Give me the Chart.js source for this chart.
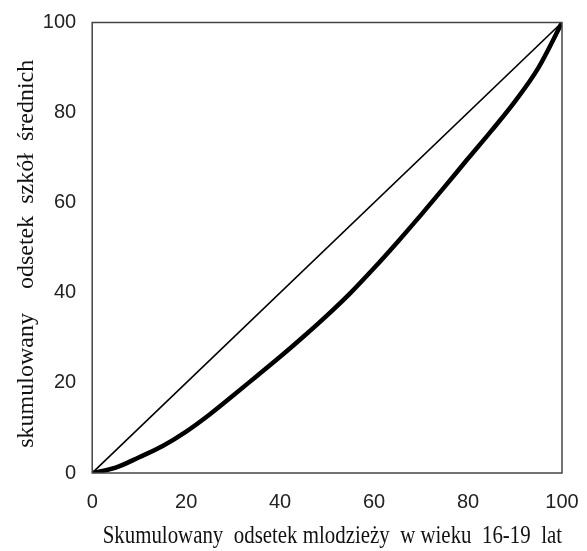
<!DOCTYPE html>
<html>
<head>
<meta charset="utf-8">
<script src="https://cdn.jsdelivr.net/npm/chart.js@4.4.1/dist/chart.umd.min.js"></script>
<style>
  html, body { margin: 0; padding: 0; background: #fff; }
  #wrap { width: 587px; height: 551px; }
</style>
</head>
<body>
<div id="wrap"><canvas id="lorenz"></canvas></div>
<script>
// skumulowany odsetek młodzieży (x) i szkół (y)
const xValues = [0, 5, 10, 15, 20, 25, 30, 35, 40, 45, 50, 55, 60, 65, 70, 75, 80, 85, 90, 95, 100];
const curveValues = [0, 1.2, 3.5, 6, 9.2, 13, 17.2, 21.5, 25.8, 30.3, 35, 40, 45.5, 51.3, 57.3, 63.5, 69.8, 76, 82.5, 90, 100];
const equalityValues = [0, 100];
const equalityX = [0, 100];
const tickValues = [0, 20, 40, 60, 80, 100];

const frame = {
    id: 'frame',
    afterDraw(chart) {
        const { ctx, chartArea: a } = chart;
        ctx.save();
        ctx.strokeStyle = '#444';
        ctx.lineWidth = 1.5;
        ctx.strokeRect(a.left, a.top, a.right - a.left, a.bottom - a.top);
        ctx.restore();
    }
};

const tickFont = { family: '"Liberation Sans", Arial, sans-serif', size: 20 };
const xTitleFont = { family: '"Liberation Serif", "Times New Roman", serif', size: 25 };
const yTitleFont = { family: '"Liberation Serif", "Times New Roman", serif', size: 24 };

new Chart(document.getElementById('lorenz'), {
    type: 'line',
    data: {
        datasets: [
            {
                data: equalityX.map((x, i) => ({ x, y: equalityValues[i] })),
                borderColor: '#000',
                borderWidth: 1.6,
                pointRadius: 0,
                tension: 0
            },
            {
                data: xValues.map((x, i) => ({ x, y: curveValues[i] })),
                borderColor: '#000',
                borderWidth: 4.5,
                pointRadius: 0,
                cubicInterpolationMode: 'monotone'
            }
        ]
    },
    options: {
        responsive: true,
        maintainAspectRatio: false,
        animation: false,
        layout: { padding: { top: 22.5, right: 25, left: 12, bottom: 0 } },
        plugins: { legend: { display: false }, tooltip: { enabled: false } },
        scales: {
            x: {
                type: 'linear',
                min: 0, max: 100,
                afterBuildTicks: axis => { axis.ticks = tickValues.map(v => ({ value: v })); },
                afterFit: axis => {
                    // chart.js liczy padding ticków podwójnie - ustawiamy ręcznie
                    axis.height = 24 + 17 + 30 + 7;
                    axis.paddingLeft = 6;
                    axis.paddingRight = 17;
                },
                grid: { display: false, drawTicks: false },
                border: { display: false },
                ticks: { color: '#222', font: tickFont, padding: 17, maxRotation: 0 },
                title: {
                    display: true,
                    text: '  Skumulowany  odsetek mlodzieży  w wieku  16-19  lat',
                    color: '#111',
                    font: xTitleFont,
                    align: 'start',
                    padding: { top: 7, bottom: 0 }
                }
            },
            y: {
                min: 0, max: 100,
                afterBuildTicks: axis => { axis.ticks = tickValues.map(v => ({ value: v })); },
                afterFit: axis => {
                    axis.width = 28.8 + 2 + 33.4 + 16;
                    axis.paddingTop = 12;
                    axis.paddingBottom = 12;
                },
                grid: { display: false, drawTicks: false },
                border: { display: false },
                ticks: { color: '#222', font: tickFont, padding: 16 },
                title: {
                    display: true,
                    text: 'skumulowany    odsetek  szkół  średnich  ',
                    color: '#111',
                    font: yTitleFont,
                    padding: { top: 0, bottom: 2 }
                }
            }
        }
    },
    plugins: [frame]
});
</script>
</body>
</html>
